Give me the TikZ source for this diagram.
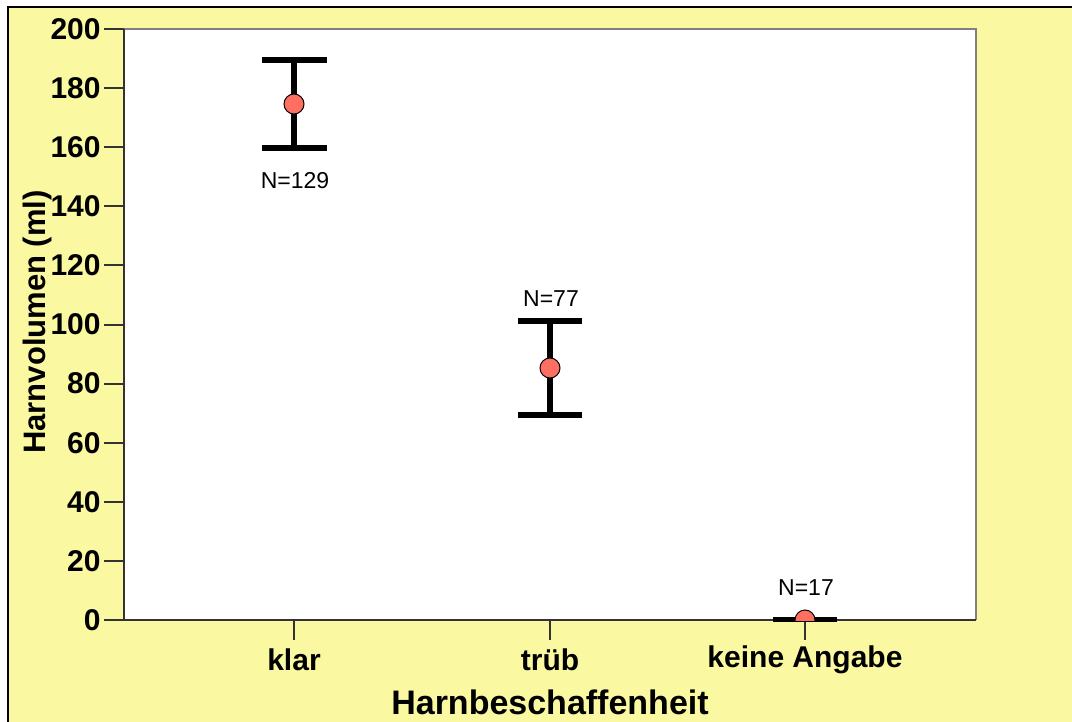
\documentclass[tikz,border=0pt]{standalone}
\usepackage{fontspec}
\setmainfont{Liberation Sans}
\definecolor{paper}{HTML}{FAF8A0}
\definecolor{dotred}{HTML}{FF6F61}
\definecolor{axisgray}{HTML}{333333}
\tikzset{
  ticklabel/.style={anchor=east,inner sep=0pt,font=\bfseries\fontsize{15}{15}\selectfont},
  catlabel/.style={anchor=center,inner sep=0pt,font=\bfseries\fontsize{15}{15}\selectfont},
  axistitle/.style={anchor=center,inner sep=0pt,font=\bfseries\fontsize{17}{17}\selectfont},
  nlabel/.style={anchor=center,inner sep=0pt,font=\fontsize{11.5}{11.5}\selectfont},
  errbar/.style={line width=3pt},
  meanmark/.style={circle,draw=black,fill=dotred,line width=0.5pt,minimum size=10pt,inner sep=0pt}
}
\begin{document}
\begin{tikzpicture}[x=0.5pt,y=-0.5pt]
        \useasboundingbox (0,0) rectangle (1072,722);
        %% background
        \fill[paper] (8,7) rectangle (1072,722);
        \draw[line width=1pt] (8,722) -- (8,7) -- (1072,7);
        %% plot area
        \fill[white] (124,29) rectangle (976,620);
        \draw[gray,line width=1.2pt] (124,29) -- (976,29) -- (976,620);
        \draw[axisgray,line width=1pt] (124,29) -- (124,620) -- (976,620);
        %% y axis
        \foreach \v in {0,20,...,200} {
            \draw[axisgray,line width=1pt] (104,{620-2.955*\v}) -- (124,{620-2.955*\v});
            \node[ticklabel] (y\v) at (101,{620-2.955*\v}) {\v};
        }
        \node[axistitle,rotate=90,font=\bfseries\fontsize{15.5}{15.5}\selectfont] (ytitle) at (37,322) {Harnvolumen (ml)};
        %% x axis
        \foreach \x/\n/\lab in {294/klar/klar,550/trueb/trüb,805/keine/keine Angabe} {
            \draw[axisgray,line width=1pt] (\x,620) -- (\x,640);
            \node[catlabel] (\n) at (\x,660) {\lab};
        }
        \node[axistitle] (xtitle) at (550,702) {Harnbeschaffenheit};
        %% klar
        \draw[errbar] (294,60) -- (294,148);
        \draw[errbar] (262,60) -- (327,60);
        \draw[errbar] (262,148) -- (327,148);
        \node[meanmark] (klarmean) at (294,104) {};
        \node[nlabel] (klarn) at (295,181) {N=129};
        %% trueb
        \draw[errbar] (550,321) -- (550,415);
        \draw[errbar] (518,321) -- (582,321);
        \draw[errbar] (518,415) -- (582,415);
        \node[meanmark] (truebmean) at (550,368) {};
        \node[nlabel] (truebn) at (551,299) {N=77};
        %% keine Angabe
        \draw[line width=2.5pt] (773,619) -- (837,619);
        \begin{scope}
            \clip (124,29) rectangle (976,620);
            \node[meanmark] (keinemean) at (805,620) {};
        \end{scope}
        \node[nlabel] (keinen) at (806,588) {N=17};
    \end{tikzpicture}
\end{document}
